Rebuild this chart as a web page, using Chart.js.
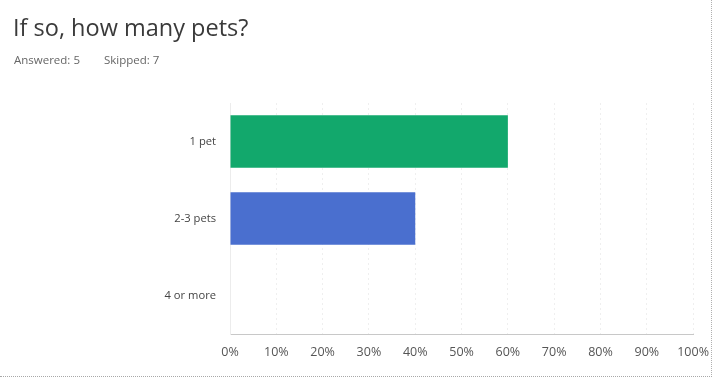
<!DOCTYPE html>
<html>
<head>
<meta charset="utf-8">
<script src="https://cdn.jsdelivr.net/npm/chart.js@4/dist/chart.umd.min.js"></script>
<style>
  html, body { margin: 0; padding: 0; background: #fff; }
  #wrap { position: relative; width: 720px; height: 381px; overflow: hidden; background: #fff; }
  #chart { position: absolute; left: 0; top: 0; }
  .title { position: absolute; left: 13px; top: 11px; font-family: "Open Sans", "Liberation Sans", sans-serif;
           font-size: 23.5px; color: #3a3a3a; white-space: nowrap; }
  .meta { position: absolute; left: 14px; top: 52px; font-family: "Open Sans", "Liberation Sans", sans-serif;
          font-size: 11.5px; color: #666; white-space: nowrap; }
  .meta span + span { margin-left: 24px; }
  .edge-r { position: absolute; left: 711px; top: 0; width: 0; height: 377px; border-left: 1px dotted #b0b0b0; }
  .edge-b { position: absolute; left: 0; top: 376px; width: 712px; height: 0; border-top: 1px dotted #a8a8a8; }
</style>
</head>
<body>
<div id="wrap">
  <canvas id="chart" width="720" height="381"></canvas>
  <div class="title">If so, how many pets?</div>
  <div class="meta"><span>Answered: 5</span><span>Skipped: 7</span></div>
  <div class="edge-r"></div>
  <div class="edge-b"></div>
</div>
<script>
// Answer choices and the share of respondents choosing each one (percent)
const choices = ["1 pet", "2-3 pets", "4 or more"];
const shares = [60, 40, 0];
const barColors = ["#12a86c", "#4a6fcf", "#9aa0a6"];
const percentTicks = [0, 10, 20, 30, 40, 50, 60, 70, 80, 90, 100];

new Chart(document.getElementById("chart"), {
  type: "bar",
  data: {
    labels: choices,
    datasets: [{
      data: shares,
      backgroundColor: barColors,
      borderWidth: 0,
      categoryPercentage: 0.68,
      barPercentage: 1.0
    }]
  },
  options: {
    indexAxis: "y",
    responsive: false,
    animation: false,
    layout: { padding: { top: 103, right: 20, bottom: 0, left: 0 } },
    plugins: { legend: { display: false }, tooltip: { enabled: false } },
    scales: {
      x: {
        min: 0, max: 100,
        afterBuildTicks(scale) { scale.ticks = percentTicks.map(v => ({ value: v })); },
        afterFit(scale) { scale.height = 47; },
        ticks: {
          callback: v => v + "%",
          padding: 11,
          color: "#555",
          font: { family: "'Open Sans', 'Liberation Sans', sans-serif", size: 12.5 }
        },
        grid: { color: "#efefef", lineWidth: 1, drawTicks: false },
        border: { display: true, color: "#c8c8c8", dash: [2, 3] }
      },
      y: {
        afterFit(scale) { scale.width = 230; },
        ticks: {
          padding: 14,
          color: "#444",
          font: { family: "'Open Sans', 'Liberation Sans', sans-serif", size: 11.2 }
        },
        grid: { display: false, drawTicks: false },
        border: { display: true, color: "#ececec", dash: [1, 3] }
      }
    }
  }
});
</script>
</body>
</html>
